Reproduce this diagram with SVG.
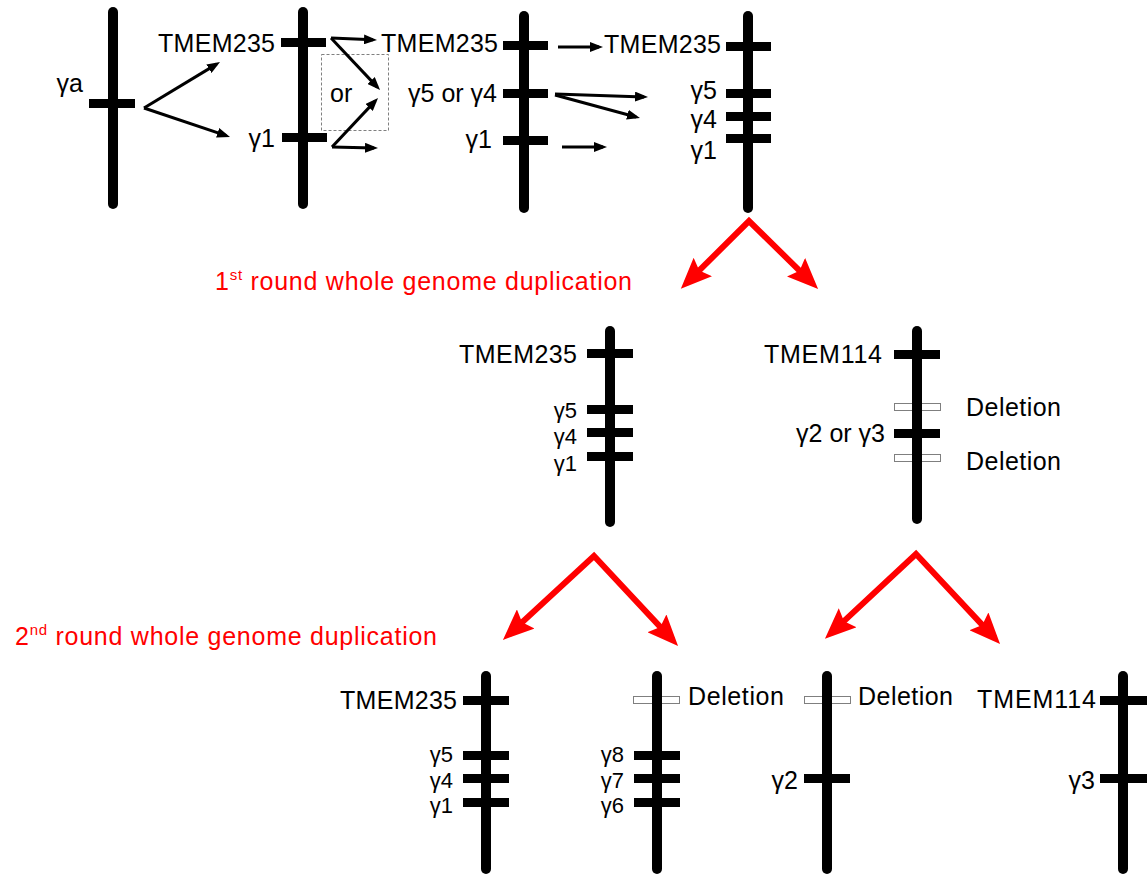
<svg xmlns="http://www.w3.org/2000/svg" width="1147" height="875" viewBox="0 0 1147 875">
<defs>
<style>
.bar{stroke:#000;stroke-width:10;stroke-linecap:round;fill:none}
.tick{fill:#000}
.del{fill:#fff;stroke:#7f7f7f;stroke-width:1}
.lbl{font-family:"Liberation Sans",Arial,sans-serif;font-size:25px;fill:#000}
.sm{font-size:22px}
.end{text-anchor:end}
.red{font-family:"Liberation Sans",Arial,sans-serif;font-size:25px;fill:#ff0000}
.arr{stroke:#000;stroke-width:3;fill:none}
.rarr{stroke:#ff0000;stroke-width:6;fill:none;stroke-linejoin:miter}
</style>
<marker id="ah" markerUnits="userSpaceOnUse" markerWidth="13" markerHeight="10" viewBox="0 0 13 10" refX="9" refY="5" orient="auto">
<path d="M0,0 L13,5 L0,10 z" fill="#000"/>
</marker>
<marker id="rah" markerUnits="userSpaceOnUse" markerWidth="31" markerHeight="26" viewBox="0 0 31 26" refX="23" refY="13" orient="auto-start-reverse">
<path d="M0,0 L31,13 L0,26 L5,13 z" fill="#ff0000"/>
</marker>
</defs>
<rect width="1147" height="875" fill="#fff"/>

<g id="chr-ancestral">
<line class="bar" x1="113" y1="12" x2="113" y2="204"/>
<rect class="tick" x="89" y="99" width="46" height="9"/>
<text class="lbl end" x="83" y="92">γa</text>
</g>

<g id="chr-step1">
<line class="bar" x1="303" y1="12" x2="303" y2="204"/>
<rect class="tick" x="281" y="38" width="45" height="9"/>
<rect class="tick" x="282" y="133" width="45" height="9"/>
<text class="lbl end" x="275" y="52" textLength="117">TMEM235</text>
<text class="lbl end" x="275" y="147">γ1</text>
<rect x="321.5" y="54.5" width="67" height="76" fill="none" stroke="#7f7f7f" stroke-width="1" stroke-dasharray="3,2"/>
<text class="lbl" x="330" y="102">or</text>
</g>

<g id="chr-step2">
<line class="bar" x1="524" y1="16" x2="524" y2="208"/>
<rect class="tick" x="503" y="41" width="45" height="9"/>
<rect class="tick" x="503" y="89" width="45" height="9"/>
<rect class="tick" x="503" y="136" width="45" height="9"/>
<text class="lbl end" x="498" y="52" textLength="117">TMEM235</text>
<text class="lbl end" x="497" y="102">γ5 or γ4</text>
<text class="lbl end" x="492" y="148">γ1</text>
</g>

<g id="chr-step3">
<line class="bar" x1="748" y1="16" x2="748" y2="208"/>
<rect class="tick" x="726" y="42" width="45" height="9"/>
<rect class="tick" x="726" y="89" width="45" height="9"/>
<rect class="tick" x="726" y="112" width="45" height="9"/>
<rect class="tick" x="726" y="134" width="45" height="9"/>
<text class="lbl end" x="721" y="53" textLength="117">TMEM235</text>
<text class="lbl end" x="717" y="99">γ5</text>
<text class="lbl end" x="717" y="128">γ4</text>
<text class="lbl end" x="717" y="159">γ1</text>
</g>

<g id="chr-wgd1-a">
<line class="bar" x1="610" y1="331" x2="610" y2="522"/>
<rect class="tick" x="587" y="349" width="46" height="9"/>
<rect class="tick" x="587" y="405" width="46" height="9"/>
<rect class="tick" x="587" y="428" width="46" height="9"/>
<rect class="tick" x="587" y="452" width="46" height="9"/>
<text class="lbl end" x="577" y="363" textLength="118">TMEM235</text>
<text class="lbl sm end" x="577" y="418">γ5</text>
<text class="lbl sm end" x="577" y="444">γ4</text>
<text class="lbl sm end" x="577" y="471">γ1</text>
</g>

<g id="chr-wgd1-b">
<line class="bar" x1="917" y1="331" x2="917" y2="519"/>
<rect class="del" x="894.5" y="403.5" width="46" height="7"/>
<rect class="del" x="894.5" y="454.5" width="46" height="7"/>
<line class="bar" x1="917" y1="400" x2="917" y2="470"/>
<rect class="tick" x="894" y="350" width="46" height="9"/>
<rect class="tick" x="894" y="429" width="46" height="9"/>
<text class="lbl end" x="882" y="363" textLength="118">TMEM114</text>
<text class="lbl end" x="885" y="442">γ2 or γ3</text>
<text class="lbl" x="966" y="416" textLength="95">Deletion</text>
<text class="lbl" x="966" y="470" textLength="95">Deletion</text>
</g>

<g id="chr-wgd2-a">
<line class="bar" x1="486" y1="676" x2="486" y2="869"/>
<rect class="tick" x="463" y="696" width="46" height="9"/>
<rect class="tick" x="463" y="751" width="46" height="9"/>
<rect class="tick" x="463" y="774" width="46" height="9"/>
<rect class="tick" x="463" y="798" width="46" height="9"/>
<text class="lbl end" x="457" y="709" textLength="117">TMEM235</text>
<text class="lbl sm end" x="453" y="762">γ5</text>
<text class="lbl sm end" x="453" y="788">γ4</text>
<text class="lbl sm end" x="453" y="813">γ1</text>
</g>

<g id="chr-wgd2-b">
<rect class="del" x="633.5" y="696.5" width="46" height="7"/>
<line class="bar" x1="657" y1="676" x2="657" y2="869"/>
<rect class="tick" x="634" y="751" width="46" height="9"/>
<rect class="tick" x="634" y="774" width="46" height="9"/>
<rect class="tick" x="634" y="798" width="46" height="9"/>
<text class="lbl sm end" x="624" y="762">γ8</text>
<text class="lbl sm end" x="624" y="788">γ7</text>
<text class="lbl sm end" x="624" y="813">γ6</text>
<text class="lbl" x="688" y="705" textLength="96">Deletion</text>
</g>

<g id="chr-wgd2-c">
<rect class="del" x="804.5" y="696.5" width="46" height="7"/>
<line class="bar" x1="827" y1="676" x2="827" y2="869"/>
<rect class="tick" x="804" y="774" width="46" height="9"/>
<text class="lbl end" x="798" y="789">γ2</text>
<text class="lbl" x="858" y="705" textLength="95">Deletion</text>
</g>

<g id="chr-wgd2-d">
<line class="bar" x1="1123" y1="676" x2="1123" y2="869"/>
<rect class="tick" x="1100" y="696" width="47" height="9"/>
<rect class="tick" x="1100" y="774" width="47" height="9"/>
<text class="lbl end" x="1096" y="708" textLength="119">TMEM114</text>
<text class="lbl end" x="1095" y="789">γ3</text>
</g>

<g id="labels">
<text class="red" x="215" y="290" textLength="417" lengthAdjust="spacing">1<tspan font-size="15" dy="-10">st</tspan><tspan dy="10"> round whole genome duplication</tspan></text>
<text class="red" x="15" y="645" textLength="422" lengthAdjust="spacing">2<tspan font-size="15" dy="-10">nd</tspan><tspan dy="10"> round whole genome duplication</tspan></text>
</g>

<g id="connectors">
<line class="arr" x1="144" y1="108" x2="216.6" y2="64.1" marker-end="url(#ah)"/>
<line class="arr" x1="144" y1="108" x2="226.2" y2="135.7" marker-end="url(#ah)"/>
<line class="arr" x1="331" y1="38" x2="373" y2="39.8" marker-end="url(#ah)"/>
<line class="arr" x1="331" y1="38" x2="377.3" y2="87.1" marker-end="url(#ah)"/>
<line class="arr" x1="332" y1="147" x2="375.3" y2="100.9" marker-end="url(#ah)"/>
<line class="arr" x1="332" y1="147" x2="374" y2="148" marker-end="url(#ah)"/>
<line class="arr" x1="558" y1="47" x2="599" y2="47" marker-end="url(#ah)"/>
<line class="arr" x1="555" y1="94" x2="644" y2="96.9" marker-end="url(#ah)"/>
<line class="arr" x1="555" y1="95" x2="636.1" y2="117" marker-end="url(#ah)"/>
<line class="arr" x1="562" y1="147" x2="603" y2="147" marker-end="url(#ah)"/>
<polyline class="rarr" points="686.5,283.2 749,221 812.4,283.3" marker-start="url(#rah)" marker-end="url(#rah)"/>
<polyline class="rarr" points="508.8,634.5 594,556 672.6,640.1" marker-start="url(#rah)" marker-end="url(#rah)"/>
<polyline class="rarr" points="830.8,633.4 916,554 994.6,638.1" marker-start="url(#rah)" marker-end="url(#rah)"/>
</g>
</svg>
